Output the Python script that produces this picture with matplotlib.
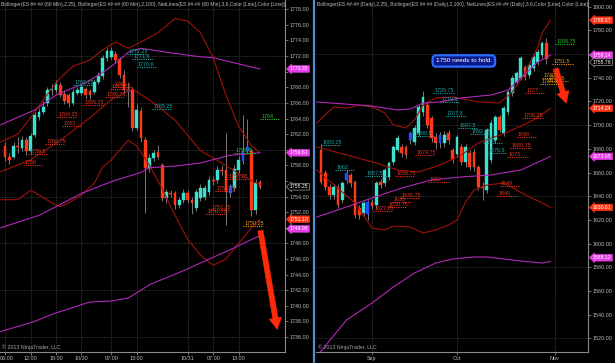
import matplotlib
matplotlib.use("Agg")
import matplotlib.pyplot as plt
from matplotlib.lines import Line2D
from matplotlib.patches import Rectangle
from matplotlib.transforms import offset_copy, ScaledTranslation

plt.rcParams["font.family"] = ["Liberation Sans", "DejaVu Sans"]

W, H = 615, 363
UP = "#3ee0d0"
DOWN = "#ff3a18"
BLUE = "#2050ff"
WICK = "#8c8c8c"
BB25 = "#a01208"
BB100 = "#b028b8"
GRID = "#3c3c3c"
TXT = "#bdbdbd"
NL_COLORS = {"t": "#1fa7a7", "r": "#e8341c", "o": "#e89a18", "g": "#22c422"}
TAG_COLORS = {"m": "#e83ce8", "r": "#ff3414", "p": "black"}

# ---------------- 60 min panel ----------------
L_OPEN = [1760.5, 1759.1, 1759.1, 1760.5, 1760.2, 1761.25, 1759.8, 1761.9, 1764.25, 1764.9,
          1766.0, 1767.6, 1767.7, 1768.3, 1767.2, 1767.0, 1766.0, 1767.25, 1767.25, 1767.75,
          1767.5, 1767.45, 1768.7, 1769.4, 1771.7, 1771.9, 1772.3, 1771.6, 1769.6, 1767.7,
          1767.8, 1762.8, 1765.0, 1761.3, 1757.7, 1759.0, 1759.7, 1758.0, 1753.8, 1754.5,
          1754.4, 1752.9, 1753.6, 1754.5, 1753.6, 1752.5, 1753.8, 1754.0, 1754.6, 1756.1,
          1756.1, 1757.4, 1757.4, 1754.4, 1755.1, 1757.4, 1758.5, 1759.9, 1759.8, 1752.3,
          1755.9]
L_CLOSE = [1759.1, 1758.7, 1760.5, 1760.3, 1761.25, 1759.8, 1761.7, 1764.5, 1764.9, 1765.5,
           1767.7, 1767.8, 1768.5, 1767.0, 1766.2, 1766.0, 1767.45, 1767.7, 1768.0, 1767.0,
           1767.0, 1768.7, 1769.4, 1771.7, 1772.6, 1772.6, 1771.5, 1769.6, 1767.7, 1767.4,
           1762.8, 1765.1, 1761.5, 1757.7, 1759.0, 1759.6, 1759.1, 1753.8, 1754.6, 1754.35,
           1752.9, 1753.6, 1754.5, 1753.6, 1753.2, 1754.6, 1755.1, 1755.1, 1756.1, 1756.0,
           1757.4, 1757.3, 1754.6, 1755.3, 1757.5, 1758.7, 1759.8, 1760.3, 1752.3, 1755.7,
           1755.25]
L_HIGH = [1761.0, 1759.6, 1761.0, 1761.6, 1761.8, 1761.6, 1762.2, 1764.9, 1765.4, 1766.2,
          1768.1, 1768.4, 1769.0, 1768.7, 1767.6, 1767.3, 1767.8, 1768.1, 1768.3, 1768.1,
          1767.8, 1769.1, 1769.9, 1772.1, 1773.1, 1773.2, 1772.7, 1771.9, 1770.2, 1768.7,
          1768.1, 1765.8, 1765.4, 1761.6, 1759.5, 1760.0, 1760.6, 1758.3, 1755.0, 1754.9,
          1754.7, 1754.0, 1755.0, 1754.8, 1754.0, 1755.0, 1755.6, 1755.5, 1756.6, 1756.6,
          1757.9, 1758.0, 1762.1, 1755.6, 1758.0, 1759.2, 1764.5, 1764.0, 1760.2, 1756.2,
          1756.1]
L_LOW = [1758.6, 1758.2, 1758.8, 1759.6, 1759.9, 1759.3, 1759.5, 1761.6, 1763.8, 1764.6,
         1765.6, 1767.0, 1767.3, 1766.7, 1765.8, 1765.5, 1765.7, 1767.0, 1767.0, 1766.6,
         1766.5, 1767.2, 1768.4, 1769.1, 1771.4, 1771.6, 1771.1, 1769.2, 1767.3, 1765.5,
         1762.4, 1762.5, 1761.0, 1751.9, 1757.2, 1758.6, 1758.8, 1753.4, 1753.2, 1753.9,
         1752.4, 1752.5, 1753.2, 1753.2, 1751.8, 1752.1, 1753.4, 1753.6, 1754.2, 1755.5,
         1755.8, 1756.8, 1750.4, 1753.9, 1754.7, 1757.0, 1758.2, 1759.5, 1751.5, 1751.8,
         1755.0]
L_BLUE = [29, 53, 56, 57]

L_BB25_UP_X = [-1, 3, 6, 9, 13, 16, 20, 23, 26, 29, 33, 36, 40, 43, 46, 49, 52, 55, 58, 60]
L_BB25_UP_Y = [1761.0, 1762.0, 1764.1, 1766.4, 1769.2, 1770.7, 1771.5, 1772.8, 1773.8, 1773.0,
               1774.1, 1775.0, 1776.8, 1776.5, 1775.0, 1771.8, 1767.0, 1763.0, 1760.5, 1759.6]
L_BB25_MID_X = [-1, 6, 13, 20, 25, 30, 35, 40, 46, 51, 56, 60]
L_BB25_MID_Y = [1757.2, 1758.7, 1761.2, 1764.1, 1766.4, 1767.8, 1766.0, 1763.8, 1759.9, 1758.3,
                1756.6, 1755.5]
L_BB25_LOW_X = [-1, 3, 6, 8, 11, 13, 15, 18, 21, 23, 25, 27, 29, 31, 34, 37, 40, 43, 46, 49,
                52, 55, 58, 60]
L_BB25_LOW_Y = [1753.6, 1753.6, 1754.8, 1754.2, 1753.2, 1752.7, 1753.2, 1754.2, 1755.7, 1757.8,
                1758.7, 1760.0, 1761.2, 1760.5, 1758.0, 1755.0, 1751.6, 1748.5, 1746.5, 1745.2,
                1746.0, 1748.0, 1750.0, 1751.1]
L_BB100_UP_X = [-1, 7, 12, 15, 19, 23, 27, 29, 32, 38, 46, 49, 58, 60]
L_BB100_UP_Y = [1763.2, 1765.1, 1767.0, 1767.7, 1768.6, 1769.9, 1771.5, 1772.5, 1773.0, 1772.5,
                1771.9, 1771.8, 1770.6, 1770.35]
L_BB100_MID_X = [-1, 8, 12, 18, 25, 32, 34, 40, 46, 53, 60]
L_BB100_MID_Y = [1750.0, 1751.6, 1752.7, 1754.4, 1755.9, 1757.1, 1757.7, 1757.9, 1758.3, 1759.3,
                 1759.61]
L_BB100_LOW_X = [-1, 7, 11, 20, 25, 29, 32, 34, 42, 53, 60]
L_BB100_LOW_Y = [1736.7, 1738.0, 1738.9, 1740.5, 1740.6, 1741.0, 1742.0, 1742.7, 1744.5, 1747.2,
                 1749.0]

# NetLines: level, first bar, colour key
L_NL_LEVEL = [1772.25, 1771.6, 1770.6, 1768.25, 1765.25,
              1768, 1767.75, 1766.75, 1765.75, 1764.25, 1763, 1760.75, 1759.5, 1758,
              1756.25, 1754.75, 1752.25, 1751.75,
              1759.6, 1764, 1750.25]
L_NL_START = [28.7, 30, 31, 16, 34.6,
              25.4, 24.7, 23.5, 18.4, 12.2, 13.4, 9.4, 5.4, 4.2,
              52.2, 49.4, 48.2, 47.3,
              54, 60, 56]
L_NL_KIND = ["t", "t", "t", "t", "t",
             "r", "r", "r", "r", "r", "r", "r", "r", "r",
             "r", "r", "r", "r",
             "g", "g", "o"]

L_TAG_VALUES = [1770.35, 1759.61, 1755.25, 1751.10, 1749.98]
L_TAG_KIND = ["m", "m", "p", "r", "m"]
L_TAG_NUDGE = [0, 0, 0, 0, -1]          # px, NinjaTrader stacks tags so they don't collide
L_XTICK_POS = [0, 6, 12, 18, 25, 31, 43, 49, 55]
L_XTICK_LABELS = ["06:00", "12:00", "18:00", "10/30", "07:00", "13:00", "10/31", "07:00", "13:00"]
L_YTICKS = list(range(1736, 1779, 2))
L_GRID_Y = [1736, 1742, 1748, 1754, 1760, 1766, 1772, 1778]
L_ARROW = [(60, 1750.0), (64.2, 1736.6)]

# ---------------- daily panel ----------------
R_OPEN = [1679, 1659.5, 1647.7, 1641, 1647.7, 1636.7, 1653.6, 1657.7, 1652, 1630,
          1626, 1625, 1635, 1632.5, 1652, 1651, 1656, 1668.7, 1679, 1681.5,
          1681.5, 1687.4, 1685.7, 1693.3, 1711, 1717, 1706, 1690, 1685, 1685,
          1693, 1679, 1676, 1681.5, 1668.7, 1676.4, 1677, 1664.6, 1647.7, 1645,
          1670.5, 1687.4, 1706.9, 1693.3, 1711, 1727, 1736.4, 1739.8, 1749, 1742.3,
          1748.2, 1753.3, 1759.2, 1769.3]
R_CLOSE = [1652, 1647.7, 1641, 1647.7, 1632.5, 1651, 1659.5, 1651, 1624, 1624,
           1634, 1635, 1632, 1651, 1649.5, 1662, 1668, 1681.5, 1689, 1676.4,
           1674.7, 1693.3, 1697.6, 1715.3, 1724, 1700, 1689, 1685, 1692, 1692,
           1687.4, 1670.5, 1690, 1668.7, 1681.5, 1664.6, 1664.6, 1647.7, 1647, 1696,
           1701.8, 1706.9, 1695.9, 1714.4, 1728, 1739.8, 1744, 1756.7, 1740.6, 1750.8,
           1757.5, 1761.7, 1769.3, 1755.78]
R_HIGH = [1684, 1662, 1650, 1650, 1650, 1653, 1662, 1660, 1654, 1633,
          1636, 1637, 1638, 1653, 1655, 1664, 1670, 1683, 1692, 1684,
          1683, 1695, 1700, 1717, 1729, 1720, 1708, 1693, 1694, 1695,
          1696, 1681, 1692, 1684, 1684, 1679, 1680, 1666, 1652, 1698,
          1704, 1709, 1709, 1716, 1730, 1742, 1746, 1758, 1751, 1753,
          1759, 1764, 1771, 1773.5]
R_LOW = [1650, 1645, 1638, 1638, 1630, 1634, 1651, 1648, 1622, 1621,
         1623, 1620, 1629, 1630, 1647, 1649, 1654, 1666, 1677, 1673,
         1672, 1684, 1683, 1691, 1708, 1698, 1686, 1680, 1681, 1682,
         1684, 1668, 1673, 1666, 1665, 1662, 1661, 1645, 1637, 1643,
         1668, 1685, 1694, 1691, 1709, 1725, 1734, 1738, 1738, 1740,
         1746, 1751, 1757, 1752]
R_BLUE = [6, 11, 21, 28]

R_BB25_UP_X = [-1, 3, 6, 9, 12, 15, 17, 20, 22, 24, 27, 31, 37, 42, 45, 48, 51, 52, 54]
R_BB25_UP_Y = [1701.9, 1715.4, 1714.5, 1717.0, 1715.4, 1710.3, 1700.2, 1697.6, 1704.4, 1717.0,
               1723.0, 1723.8, 1719.6, 1718.7, 1728.0, 1744.1, 1766.0, 1777.8, 1788.67]
R_BB25_MID_X = [-1, 6, 13, 18, 23, 28, 33, 37, 44, 50, 54]
R_BB25_MID_Y = [1681.6, 1674.9, 1668.1, 1662.2, 1660.5, 1666.4, 1674.9, 1685.0, 1694.3, 1704.4,
                1714.24]
R_BB25_LOW_X = [-1, 8, 12, 15, 17, 21, 24, 27, 30, 32, 34, 36, 39, 43, 46, 49, 52, 54]
R_BB25_LOW_Y = [1662.2, 1634.4, 1613.2, 1611.6, 1614.9, 1614.1, 1609.0, 1611.6, 1615.8, 1620.0,
                1635.2, 1645.3, 1649.5, 1651.2, 1645.3, 1639.4, 1634.4, 1630.61]
R_BB100_UP_X = [-1, 12, 18, 21, 24, 28, 33, 40, 44, 47, 51, 54]
R_BB100_UP_Y = [1719.6, 1716.2, 1712.8, 1713.7, 1718.7, 1719.6, 1723.0, 1725.5, 1729.7, 1739.8,
                1753.3, 1759.14]
R_BB100_MID_X = [-1, 6, 12, 19, 26, 33, 40, 47, 54]
R_BB100_MID_Y = [1622.5, 1631.0, 1638.6, 1647.0, 1653.8, 1656.3, 1658.0, 1662.2, 1673.65]
R_BB100_LOW_X = [-1, 6, 12, 17, 22, 27, 31, 36, 39, 43, 47, 52, 54]
R_BB100_LOW_Y = [1505.0, 1535.6, 1549.9, 1563.5, 1575.3, 1583.7, 1587.1, 1588.8, 1588.8, 1587.1,
                 1585.4, 1583.7, 1585.0]

R_NL_LEVEL = [1726.75, 1719.5, 1707.5, 1697.5, 1692.25, 1685, 1676.5, 1690.5, 1683.25, 1662,
              1657.5,
              1727, 1706.25, 1690, 1680.75, 1673, 1674.75, 1656.75, 1638.75, 1635, 1630.75,
              1627.25, 1649, 1640, 1652,
              1751.5, 1740, 1737.5, 1734.5,
              1768.75]
R_NL_START = [26.4, 28, 29.2, 32.2, 35, 38, 39, 22, 0, 3.3,
              10.4,
              48, 47.3, 46, 44.5, 43.8, 22.1, 17.4, 18.6, 16.7, 15.5,
              12.2, 42, 41.4, 25.2,
              54.4, 52, 53.2, 51.5,
              55]
R_NL_KIND = ["t"] * 11 + ["r"] * 14 + ["o"] * 4 + ["g"]

R_TAG_VALUES = [1788.67, 1759.14, 1755.78, 1714.24, 1673.65, 1630.61, 1588.12]
R_TAG_KIND = ["r", "m", "p", "r", "m", "r", "m"]
R_TAG_NUDGE = [0, 0, -3, 0, 0, 0, 0]
R_XTICK_POS = [12, 32, 55]
R_XTICK_LABELS = ["Sep", "Oct", "Nov"]
R_YTICKS = list(range(1520, 1801, 20))
R_GRID_Y = [1520, 1580, 1640, 1700, 1760]
R_ARROW = [(55, 1750.0), (57.9, 1716.2)]
R_NOTE = (33.6, 1754.2, "1750 needs to hold.")


def px_axes(fig, x0, x1, y_top, y_bot):
    return fig.add_axes([x0 / W, 1 - y_bot / H, (x1 - x0) / W, (y_bot - y_top) / H])


def style_axes(ax, grid_y, xpos, xlabels):
    ax.set_facecolor("black")
    for side in ("left", "top"):
        ax.spines[side].set_visible(False)
    for side in ("right", "bottom"):
        ax.spines[side].set_color("#8a8a8a")
        ax.spines[side].set_linewidth(0.8)
    ax.yaxis.tick_right()
    ax.set_xticks(xpos)
    ax.set_xticklabels(xlabels)
    ax.tick_params(colors="#9a9a9a", labelcolor=TXT, labelsize=3.9, length=2, width=0.5, pad=1.2)
    for v in grid_y:
        ax.axhline(v, color=GRID, lw=0.6, ls=(0, (1, 1)), zorder=1)
    for p in xpos:
        ax.axvline(p, color=GRID, lw=0.6, ls=(0, (1, 1)), zorder=1)


def set_price_ticks(ax, yticks, tags, gap_px=6.5):
    # like NinjaTrader, a price tag hides the axis label it sits on
    lo, hi = ax.get_ylim()
    px_per_unit = ax.get_position().height * H / (hi - lo)
    ax.set_yticks(yticks)
    ax.set_yticklabels(["" if any(abs(t - v) * px_per_unit < gap_px for v in tags) else f"{t:.2f}"
                        for t in yticks])


def draw_candles(ax, opens, highs, lows, closes, blue, min_h):
    for i, (o, h, l, c) in enumerate(zip(opens, highs, lows, closes)):
        if i in blue:
            col = BLUE
        elif c >= o:
            col = UP
        else:
            col = DOWN
        ax.vlines(i, l, h, color=WICK, lw=0.6, zorder=3)
        lo, hi = min(o, c), max(o, c)
        ax.add_patch(Rectangle((i - 0.32, lo), 0.64, max(hi - lo, min_h),
                               fc=col, ec=col, lw=0.3, zorder=4))


def draw_bands(ax, bands):
    for xs, ys, col in bands:
        ax.plot(xs, ys, color=col, lw=0.8, zorder=5)


def draw_netlines(ax, levels, starts, kinds, length):
    for lv, x0, k in zip(levels, starts, kinds):
        col = NL_COLORS[k]
        ax.plot([x0, x0 + length], [lv, lv], color=col, lw=0.8, ls=(0, (1, 1)), zorder=6)
        ax.text(x0 + 0.3, lv, f"{lv:g}", color=col, fontsize=3.9, va="bottom", ha="left", zorder=6)


def draw_tags(ax, values, kinds, nudges):
    for v, k, dy in zip(values, kinds, nudges):
        fc = TAG_COLORS[k]
        ec = "#9a9a9a" if k == "p" else fc
        trans = offset_copy(ax.get_yaxis_transform(), fig=ax.figure, x=5, y=dy, units="dots")
        ax.text(1.0, v, f"{v:.2f}", transform=trans, fontsize=3.7,
                color="white", va="center", ha="left", clip_on=False, zorder=10,
                bbox=dict(boxstyle="larrow,pad=0.15", fc=fc, ec=ec, lw=0.5))


def draw_arrow(ax, start, end):
    ax.annotate("", xy=end, xytext=start, zorder=9,
                arrowprops=dict(arrowstyle="simple,head_length=1.2,head_width=1.3,tail_width=0.55",
                                fc="#ff2a0a", ec="#ff2a0a", lw=0.3, mutation_scale=7))


fig = plt.figure(figsize=(W / 100, H / 100), dpi=100, facecolor="black")

# ---- left: 60 min chart ----
axL = px_axes(fig, 0, 285, 0, 352)
style_axes(axL, L_GRID_Y, L_XTICK_POS, L_XTICK_LABELS)
axL.set_xlim(-1.18, 65.9)
axL.set_ylim(1734.08, 1779.19)
set_price_ticks(axL, L_YTICKS, L_TAG_VALUES)
# first time label sits against the left edge, as in NinjaTrader
first = axL.get_xticklabels()[0]
first.set_ha("left")
first.set_transform(first.get_transform() + ScaledTranslation(-5 / 100, 0, fig.dpi_scale_trans))
draw_candles(axL, L_OPEN, L_HIGH, L_LOW, L_CLOSE, L_BLUE, 0.12)
draw_bands(axL, [(L_BB25_UP_X, L_BB25_UP_Y, BB25), (L_BB25_MID_X, L_BB25_MID_Y, BB25),
                 (L_BB25_LOW_X, L_BB25_LOW_Y, BB25), (L_BB100_UP_X, L_BB100_UP_Y, BB100),
                 (L_BB100_MID_X, L_BB100_MID_Y, BB100), (L_BB100_LOW_X, L_BB100_LOW_Y, BB100)])
draw_netlines(axL, L_NL_LEVEL, L_NL_START, L_NL_KIND, 4.8)
draw_tags(axL, L_TAG_VALUES, L_TAG_KIND, L_TAG_NUDGE)
draw_arrow(axL, *L_ARROW)
axL.text(0.004, 0.995, "Bollinger(ES ##-## (60 Min),2,25), Bollinger(ES ##-## (60 Min),2,100), "
         "NetLines(ES ##-## (60 Min),3,6,Color [Line],Color [Line])",
         transform=axL.transAxes, fontsize=3.6, color=TXT, va="top", ha="left", clip_on=True)
axL.text(0.006, 0.006, "\u00a9 2013 NinjaTrader, LLC", transform=axL.transAxes,
         fontsize=3.8, color="#a8a8a8", va="bottom", ha="left")

# ---- right: daily chart ----
axR = px_axes(fig, 316, 588, 0, 352)
style_axes(axR, R_GRID_Y, R_XTICK_POS, R_XTICK_LABELS)
axR.set_xlim(-1.18, 62.8)
axR.set_ylim(1508.6, 1805.65)
set_price_ticks(axR, R_YTICKS, R_TAG_VALUES)
draw_candles(axR, R_OPEN, R_HIGH, R_LOW, R_CLOSE, R_BLUE, 0.8)
draw_bands(axR, [(R_BB25_UP_X, R_BB25_UP_Y, BB25), (R_BB25_MID_X, R_BB25_MID_Y, BB25),
                 (R_BB25_LOW_X, R_BB25_LOW_Y, BB25), (R_BB100_UP_X, R_BB100_UP_Y, BB100),
                 (R_BB100_MID_X, R_BB100_MID_Y, BB100), (R_BB100_LOW_X, R_BB100_LOW_Y, BB100)])
draw_netlines(axR, R_NL_LEVEL, R_NL_START, R_NL_KIND, 4.8)
draw_tags(axR, R_TAG_VALUES, R_TAG_KIND, R_TAG_NUDGE)
draw_arrow(axR, *R_ARROW)
axR.text(R_NOTE[0], R_NOTE[1], R_NOTE[2], fontsize=4.6, color="white", ha="center", va="center",
         zorder=11, bbox=dict(boxstyle="round,pad=0.5,rounding_size=0.6", fc="#0a1a8a",
                              ec="#2c6cff", lw=1.6))
axR.text(0.004, 0.995, "Bollinger(ES ##-## (Daily),2,25), Bollinger(ES ##-## (Daily),2,100), "
         "NetLines(ES ##-## (Daily),3,6,Color [Line],Color [Line])",
         transform=axR.transAxes, fontsize=3.6, color=TXT, va="top", ha="left", clip_on=True)
axR.text(0.006, 0.006, "\u00a9 2013 NinjaTrader, LLC", transform=axR.transAxes,
         fontsize=3.8, color="#a8a8a8", va="bottom", ha="left")

# panel separator
fig.add_artist(Line2D([313.5 / W, 313.5 / W], [0, 1], color="#4f8fd0", lw=1.6))

fig.savefig("out.png", dpi=100, facecolor="black")
